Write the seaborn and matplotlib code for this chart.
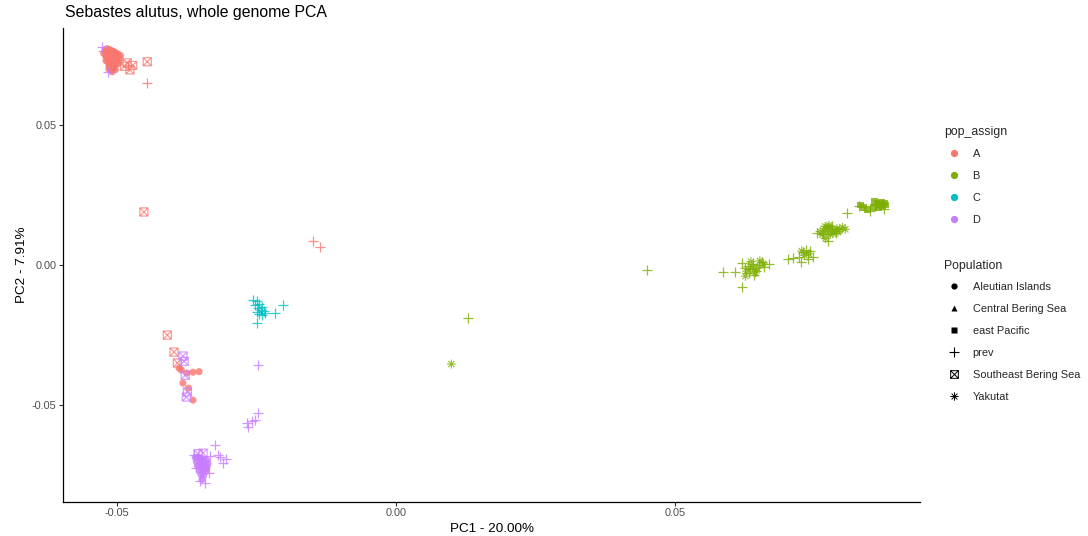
import numpy as np
import pandas as pd
import matplotlib
matplotlib.use("Agg")
import matplotlib.pyplot as plt
from matplotlib.path import Path
from matplotlib.markers import MarkerStyle
from matplotlib.lines import Line2D
import seaborn as sns

# ---------------- data ----------------
assign_levels = ["A", "B", "C", "D"]
population_levels = ["Aleutian Islands", "Central Bering Sea", "east Pacific",
                     "prev", "Southeast Bering Sea", "Yakutat"]
assign_colors = ["#F8766D", "#7CAE00", "#00BFC4", "#C77CFF"]

xticks = [-0.05, 0.00, 0.05]
xtick_labels = ["-0.05", "0.00", "0.05"]
yticks = [-0.05, 0.00, 0.05]
ytick_labels = ["-0.05", "0.00", "0.05"]

# A - Aleutian Islands
A_ai_pc1 = [-0.0522, -0.0518, -0.0514, -0.0510, -0.0506, -0.0502, -0.0498, -0.0520, -0.0515,
            -0.0510, -0.0505, -0.0500, -0.0496, -0.0518, -0.0512, -0.0507, -0.0501, -0.0516,
            -0.0510, -0.0504, -0.0513, -0.0508, -0.0511, -0.0503, -0.0509,
            -0.0524, -0.0494, -0.0520, -0.0497, -0.0506, -0.0515,
            -0.0389, -0.0375, -0.0364, -0.0353, -0.0382, -0.0372, -0.0364, -0.0385, -0.0340]
A_ai_pc2 = [0.0770, 0.0775, 0.0772, 0.0768, 0.0765, 0.0760, 0.0755, 0.0750, 0.0758,
            0.0752, 0.0748, 0.0745, 0.0740, 0.0738, 0.0735, 0.0730, 0.0728, 0.0725,
            0.0720, 0.0715, 0.0710, 0.0705, 0.0698, 0.0700, 0.0692,
            0.0758, 0.0750, 0.0732, 0.0722, 0.0712, 0.0702,
            -0.0369, -0.0387, -0.0384, -0.0382, -0.0423, -0.0441, -0.0484, -0.0376, -0.0730]
# A - Central Bering Sea
A_cbs_pc1 = [-0.0508, -0.0514]
A_cbs_pc2 = [0.0742, 0.0726]
# A - prev
A_prev_pc1 = [-0.0525, -0.0519, -0.0507, -0.0499, -0.0512, -0.0446, -0.0149, -0.0136]
A_prev_pc2 = [0.0765, 0.0745, 0.0758, 0.0735, 0.0712, 0.0652, 0.0086, 0.0065]
# A - Southeast Bering Sea
A_sbs_pc1 = [-0.0482, -0.0477, -0.0446, -0.0487, -0.0472, -0.0452, -0.0410, -0.0398, -0.0392]
A_sbs_pc2 = [0.0724, 0.0699, 0.0728, 0.0712, 0.0715, 0.0190, -0.0251, -0.0312, -0.0351]

# B - east Pacific
B_ep_pc1 = [0.0832, 0.0845, 0.0855, 0.0862, 0.0868, 0.0872, 0.0878, 0.0865, 0.0858, 0.0838,
            0.0870, 0.0876]
B_ep_pc2 = [0.0215, 0.0200, 0.0205, 0.0222, 0.0218, 0.0210, 0.0215, 0.0205, 0.0228, 0.0205,
            0.0225, 0.0222]
# B - prev
B_prev_pc1 = [0.0450, 0.0129,
              0.0586, 0.0608, 0.0620, 0.0620, 0.0625, 0.0630, 0.0635, 0.0640, 0.0645, 0.0650,
              0.0655, 0.0660, 0.0632, 0.0642, 0.0668,
              0.0703, 0.0712, 0.0722, 0.0730, 0.0735, 0.0742, 0.0748, 0.0738, 0.0725,
              0.0755, 0.0765, 0.0782, 0.0788, 0.0774,
              0.0809, 0.0830, 0.0860, 0.0875, 0.0850]
B_prev_pc2 = [-0.0018, -0.0190,
              -0.0025, -0.0025, -0.0079, 0.0008, -0.0010, -0.0005, -0.0015, 0.0005, -0.0020, 0.0000,
              0.0010, -0.0008, -0.0030, -0.0035, 0.0002,
              0.0020, 0.0025, 0.0030, 0.0045, 0.0055, 0.0050, 0.0030, 0.0020, 0.0012,
              0.0115, 0.0110, 0.0140, 0.0115, 0.0085,
              0.0186, 0.0210, 0.0215, 0.0200, 0.0195]
# B - Yakutat
B_yak_pc1 = [0.0099,
             0.0628, 0.0638, 0.0647, 0.0652, 0.0636, 0.0644, 0.0658, 0.0626,
             0.0732, 0.0740, 0.0727,
             0.0760, 0.0768, 0.0775, 0.0780, 0.0785, 0.0772, 0.0790, 0.0795, 0.0778, 0.0770,
             0.0800, 0.0805, 0.0764, 0.0776, 0.0783, 0.0792, 0.0769]
B_yak_pc2 = [-0.0355,
             -0.0022, -0.0008, -0.0012, 0.0015, 0.0012, -0.0028, 0.0004, -0.0040,
             0.0035, 0.0040, 0.0050,
             0.0120, 0.0130, 0.0135, 0.0128, 0.0122, 0.0118, 0.0130, 0.0125, 0.0110, 0.0095,
             0.0135, 0.0128, 0.0108, 0.0142, 0.0112, 0.0118, 0.0138]

# C - prev
C_prev_pc1 = [-0.0256, -0.0250, -0.0245, -0.0240, -0.0252, -0.0247, -0.0242, -0.0237, -0.0250,
              -0.0245, -0.0240, -0.0235, -0.0203, -0.0217, -0.0249]
C_prev_pc2 = [-0.0125, -0.0130, -0.0140, -0.0150, -0.0145, -0.0155, -0.0160, -0.0165, -0.0170,
              -0.0175, -0.0180, -0.0172, -0.0143, -0.0172, -0.0208]

# D - Aleutian Islands
D_ai_pc1 = [-0.0360, -0.0355, -0.0350, -0.0345, -0.0340, -0.0358, -0.0352, -0.0347, -0.0342,
            -0.0337, -0.0356, -0.0350, -0.0344, -0.0339, -0.0353, -0.0347, -0.0341, -0.0350,
            -0.0345, -0.0348]
D_ai_pc2 = [-0.0690, -0.0688, -0.0692, -0.0695, -0.0698, -0.0705, -0.0708, -0.0702, -0.0710,
            -0.0712, -0.0720, -0.0722, -0.0718, -0.0725, -0.0735, -0.0738, -0.0740, -0.0750,
            -0.0755, -0.0768]
# D - prev
D_prev_pc1 = [-0.0527, -0.0516,
              -0.0362, -0.0333, -0.0324, -0.0320, -0.0315, -0.0310, -0.0305, -0.0358, -0.0335,
              -0.0352, -0.0343, -0.0267, -0.0265, -0.0258, -0.0247, -0.0252, -0.0247]
D_prev_pc2 = [0.0781, 0.0692,
              -0.0680, -0.0685, -0.0645, -0.0680, -0.0687, -0.0710, -0.0695, -0.0728, -0.0745,
              -0.0775, -0.0780, -0.0566, -0.0580, -0.0560, -0.0530, -0.0555, -0.0358]
# D - Southeast Bering Sea
D_sbs_pc1 = [-0.0382, -0.0380, -0.0374, -0.0376, -0.0378, -0.0346, -0.0355]
D_sbs_pc2 = [-0.0326, -0.0345, -0.0455, -0.0473, -0.0395, -0.0674, -0.0676]

groups = [
    ("A", "Aleutian Islands", A_ai_pc1, A_ai_pc2),
    ("A", "Central Bering Sea", A_cbs_pc1, A_cbs_pc2),
    ("A", "prev", A_prev_pc1, A_prev_pc2),
    ("A", "Southeast Bering Sea", A_sbs_pc1, A_sbs_pc2),
    ("B", "east Pacific", B_ep_pc1, B_ep_pc2),
    ("B", "prev", B_prev_pc1, B_prev_pc2),
    ("B", "Yakutat", B_yak_pc1, B_yak_pc2),
    ("C", "prev", C_prev_pc1, C_prev_pc2),
    ("D", "Aleutian Islands", D_ai_pc1, D_ai_pc2),
    ("D", "prev", D_prev_pc1, D_prev_pc2),
    ("D", "Southeast Bering Sea", D_sbs_pc1, D_sbs_pc2),
]
frames = []
for a, p, xs, ys in groups:
    frames.append(pd.DataFrame({"PC1": xs, "PC2": ys, "pop_assign": a, "Population": p}))
df = pd.concat(frames, ignore_index=True)

# ---------------- markers (ggplot shapes 16,17,15,3,7,8) ----------------
sq_cross = Path(
    [(-1, -1), (1, -1), (1, 1), (-1, 1), (-1, -1), (-1, -1), (1, 1), (-1, 1), (1, -1)],
    [Path.MOVETO, Path.LINETO, Path.LINETO, Path.LINETO, Path.CLOSEPOLY,
     Path.MOVETO, Path.LINETO, Path.MOVETO, Path.LINETO])
asterisk = Path(
    [(-1, 0), (1, 0), (0, -1), (0, 1), (-0.7, -0.7), (0.7, 0.7), (-0.7, 0.7), (0.7, -0.7)],
    [Path.MOVETO, Path.LINETO] * 4)

marker_spec = {
    "Aleutian Islands": dict(marker="o", s=26, linewidth=0),
    "Central Bering Sea": dict(marker="^", s=28, linewidth=0),
    "east Pacific": dict(marker="s", s=24, linewidth=0),
    "prev": dict(marker="+", s=60, linewidth=0.9),
    "Southeast Bering Sea": dict(marker=MarkerStyle(sq_cross, fillstyle="none"), s=34, linewidth=0.8),
    "Yakutat": dict(marker=MarkerStyle(asterisk, fillstyle="none"), s=42, linewidth=0.8),
}

# ---------------- plot ----------------
sns.set_theme(style="white")
plt.rcParams["font.family"] = ["Liberation Sans", "DejaVu Sans"]
plt.rcParams["axes.unicode_minus"] = False

palette = dict(zip(assign_levels, assign_colors))

fig = plt.figure(figsize=(10.88, 5.36), dpi=100)
ax = fig.add_axes([63 / 1088, 34 / 536, 857 / 1088, 474 / 536])

for pop in population_levels:
    for a in assign_levels:
        sub = df[(df["Population"] == pop) & (df["pop_assign"] == a)]
        if sub.empty:
            continue
        kws = dict(marker_spec[pop])
        if kws["linewidth"] == 0:
            kws["edgecolor"] = "none"
        sns.scatterplot(data=sub, x="PC1", y="PC2", color=palette[a], alpha=0.8,
                        legend=False, ax=ax, **kws)

ax.set_xlim(-0.0597, 0.0939)
ax.set_ylim(-0.0849, 0.0849)
ax.set_xticks(xticks)
ax.set_xticklabels(xtick_labels)
ax.set_yticks(yticks)
ax.set_yticklabels(ytick_labels)
ax.tick_params(axis="both", which="both", length=3, width=0.8, color="#333333",
               labelsize=7.8, labelcolor="#4D4D4D", pad=1.5, direction="out",
               bottom=True, left=True)
for side in ["top", "right"]:
    ax.spines[side].set_visible(False)
for side in ["left", "bottom"]:
    ax.spines[side].set_color("black")
    ax.spines[side].set_linewidth(0.9)

ax.set_xlabel("PC1 - 20.00%", fontsize=9.7, color="black")
ax.set_ylabel("PC2 - 7.91%", fontsize=9.7, color="black")
ax.xaxis.set_label_coords(0.5, -0.044)
ax.yaxis.set_label_coords(-0.041, 0.5)

fig.text(65 / 1088, 1 - 12 / 536, "Sebastes alutus, whole genome PCA",
         fontsize=11.4, ha="left", va="center", color="black")

# ---------------- legends ----------------
h1 = [Line2D([], [], linestyle="none", marker="o", markersize=5.2,
             markerfacecolor=c, markeredgecolor="none") for c in assign_colors]
h2 = [
    Line2D([], [], linestyle="none", marker="o", markersize=4.5, color="black", markeredgecolor="none"),
    Line2D([], [], linestyle="none", marker="^", markersize=4.8, color="black", markeredgecolor="none"),
    Line2D([], [], linestyle="none", marker="s", markersize=4.2, color="black", markeredgecolor="none"),
    Line2D([], [], linestyle="none", marker="+", markersize=7, color="black", markeredgewidth=0.8),
    Line2D([], [], linestyle="none", marker=MarkerStyle(sq_cross, fillstyle="none"), markersize=5.5,
           color="black", markeredgewidth=0.7),
    Line2D([], [], linestyle="none", marker=MarkerStyle(asterisk, fillstyle="none"), markersize=6,
           color="black", markeredgewidth=0.7),
]
common = dict(loc="upper left", frameon=False, alignment="left", fontsize=7.9,
              title_fontsize=8.8, labelspacing=1.1, handlelength=1.8, handletextpad=0.8,
              borderpad=0, borderaxespad=0)
leg1 = fig.legend(h1, assign_levels, title="pop_assign",
                  bbox_to_anchor=(944 / 1088, 1 - 126 / 536), **common)
leg1._legend_box.sep = 8
leg2 = fig.legend(h2, population_levels, title="Population",
                  bbox_to_anchor=(944 / 1088, 1 - 260 / 536), **common)
leg2._legend_box.sep = 7

fig.savefig("out.png", dpi=100)
